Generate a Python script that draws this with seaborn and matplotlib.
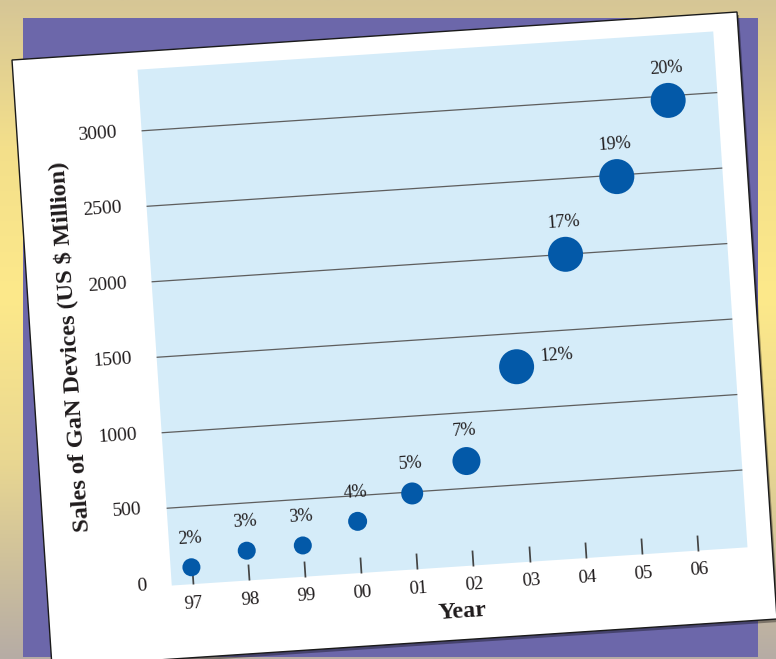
import numpy as np
import pandas as pd
import matplotlib
matplotlib.use("Agg")
import matplotlib.pyplot as plt
import seaborn as sns
from matplotlib.transforms import Affine2D
from matplotlib.patches import Polygon, Rectangle
from matplotlib.colors import LinearSegmentedColormap
import mpl_toolkits.axisartist.floating_axes as floating_axes
from mpl_toolkits.axisartist.grid_finder import FixedLocator, DictFormatter

# ---------------- data ----------------
years = [97, 98, 99, 100, 101, 102, 103, 104, 105, 106]
year_labels = ["97", "98", "99", "00", "01", "02", "03", "04", "05", "06"]
sales = [100, 185, 195, 330, 490, 680, 1280, 2000, 2490, 2970]
share_labels = ["2%", "3%", "3%", "4%", "5%", "7%", "12%", "17%", "19%", "20%"]
y_ticks = [0, 500, 1000, 1500, 2000, 2500, 3000]
x_label = "Year"
y_label = "Sales of GaN Devices (US $ Million)"

# ---------------- style / layout ----------------
marker_diam_px = [18, 18, 18, 19, 22, 28, 35, 35, 35, 35]
label_side = ["top"] * 6 + ["right"] + ["top"] * 3
W, H, DPI = 776, 659, 100
ANGLE = 3.8
XLIM = (96.63, 106.88)
YLIM = (-12, 3405)
PLOT_W, PLOT_H = 577, 517
CX, CY = 442.5, 308.5
TEXT = "#1f1b1c"
BLUE_BG = "#d5ecf9"
MARK = "#0359a8"

sns.set_theme(style="white")
plt.rcParams["font.family"] = ["Liberation Serif", "DejaVu Serif"]
plt.rcParams["text.color"] = TEXT

fig = plt.figure(figsize=(W / DPI, H / DPI), dpi=DPI)


def fx(px):
    return px / W


def fy(py):
    return 1 - py / H


# background
bg = fig.add_axes([0, 0, 1, 1])
bg.set_xlim(0, 1)
bg.set_ylim(0, 1)
bg.axis("off")
cmap = LinearSegmentedColormap.from_list(
    "bg", [(0, "#d6c696"), (0.22, "#f3df8b"), (0.45, "#fde98a"),
           (0.7, "#e9d791"), (1, "#b6aca5")])
grad = np.linspace(0, 1, 256).reshape(-1, 1)
bg.imshow(grad, cmap=cmap, extent=(0, 1, 0, 1), aspect="auto", origin="upper")
bg.add_patch(Rectangle((fx(23), fy(657)), fx(758) - fx(23), fy(18) - fy(657),
                       facecolor="#6c67aa", edgecolor="none"))
card = [(12, 60), (737, 12), (777, 619), (52, 667)]
bg.add_patch(Polygon([(fx(x + 2), fy(y + 3)) for x, y in card], closed=True,
                     facecolor="black", alpha=0.35, edgecolor="none"))
bg.add_patch(Polygon([(fx(x), fy(y)) for x, y in card], closed=True,
                     facecolor="white", edgecolor="#1a1a1a", linewidth=1.0))

# rotated chart axes
px_per_x = PLOT_W / (XLIM[1] - XLIM[0])
px_per_y = PLOT_H / (YLIM[1] - YLIM[0])
sy = px_per_y / px_per_x
tr = Affine2D().scale(1.0, sy).rotate_deg(ANGLE)
grid_helper = floating_axes.GridHelperCurveLinear(
    tr, (XLIM[0], XLIM[1], YLIM[0], YLIM[1]),
    grid_locator1=FixedLocator(years),
    tick_formatter1=DictFormatter(dict(zip(years, year_labels))),
    grid_locator2=FixedLocator(y_ticks),
    tick_formatter2=DictFormatter({v: str(v) for v in y_ticks}))

th = np.deg2rad(ANGLE)
bw = PLOT_W * np.cos(th) + PLOT_H * np.sin(th)
bh = PLOT_W * np.sin(th) + PLOT_H * np.cos(th)
aw, ah = bw * 1.02, bh * 1.02
rect = [fx(CX - aw / 2), fy(CY + ah / 2), aw / W, ah / H]
ax = fig.add_axes(rect, axes_class=floating_axes.FloatingAxes,
                  grid_helper=grid_helper)
ax.set_zorder(2)
ax.patch.set_facecolor(BLUE_BG)
aux = ax.get_aux_axes(tr)

# gridlines
aux.hlines(y_ticks[1:], XLIM[0], XLIM[1], colors="#5e5e5e", linewidth=0.9,
           zorder=1)

# points
df = pd.DataFrame({"year": years, "sales": sales,
                   "area": [(d * 72 / DPI) ** 2 for d in marker_diam_px]})
sns.scatterplot(data=df, x="year", y="sales", size="area",
                sizes={a: a for a in df["area"].unique()},
                color=MARK, edgecolor="none", linewidth=0, legend=False,
                ax=aux, zorder=3)

for x, y, lab, d, side in zip(years, sales, share_labels, marker_diam_px,
                              label_side):
    if side == "right":
        aux.text(x + (d / 2 + 7) / px_per_x, y + 9 / px_per_y, lab,
                 ha="left", va="center", rotation=ANGLE,
                 rotation_mode="anchor", fontsize=13, color=TEXT, zorder=4)
    else:
        aux.text(x, y + (25 + 0.4 * d / 2) / px_per_y, lab,
                 ha="center", va="center", rotation=ANGLE,
                 rotation_mode="anchor", fontsize=13, color=TEXT, zorder=4)

# axis styling
for side in ["top", "right"]:
    ax.axis[side].set_visible(False)

left = ax.axis["left"]
left.line.set_visible(False)
left.major_ticks.set_visible(False)
left.major_ticklabels.set_fontsize(14)
left.major_ticklabels.set_color(TEXT)
left.major_ticklabels.set_pad(18)

# y axis title (placed slightly below the axis centre, as in the original)
aux.text(XLIM[0] - 86 / px_per_x, YLIM[0] + 245 / px_per_y, y_label,
         ha="center", va="center", rotation=90 + ANGLE,
         rotation_mode="anchor", fontsize=17.5, fontweight="bold",
         color=TEXT)

bottom = ax.axis["bottom"]
bottom.line.set_visible(False)
bottom.major_ticks.set_tick_out(False)
bottom.major_ticks.set_ticksize(11.5)
bottom.major_ticks.set_color("#444444")
bottom.major_ticks.set_linewidth(1.0)
bottom.major_ticklabels.set_fontsize(13.5)
bottom.major_ticklabels.set_color(TEXT)
bottom.major_ticklabels.set_pad(8)
bottom.label.set_text(x_label)
bottom.label.set_fontsize(17.5)
bottom.label.set_fontweight("bold")
bottom.label.set_color(TEXT)
bottom.label.set_pad(8)

fig.savefig("out.png", dpi=DPI)
